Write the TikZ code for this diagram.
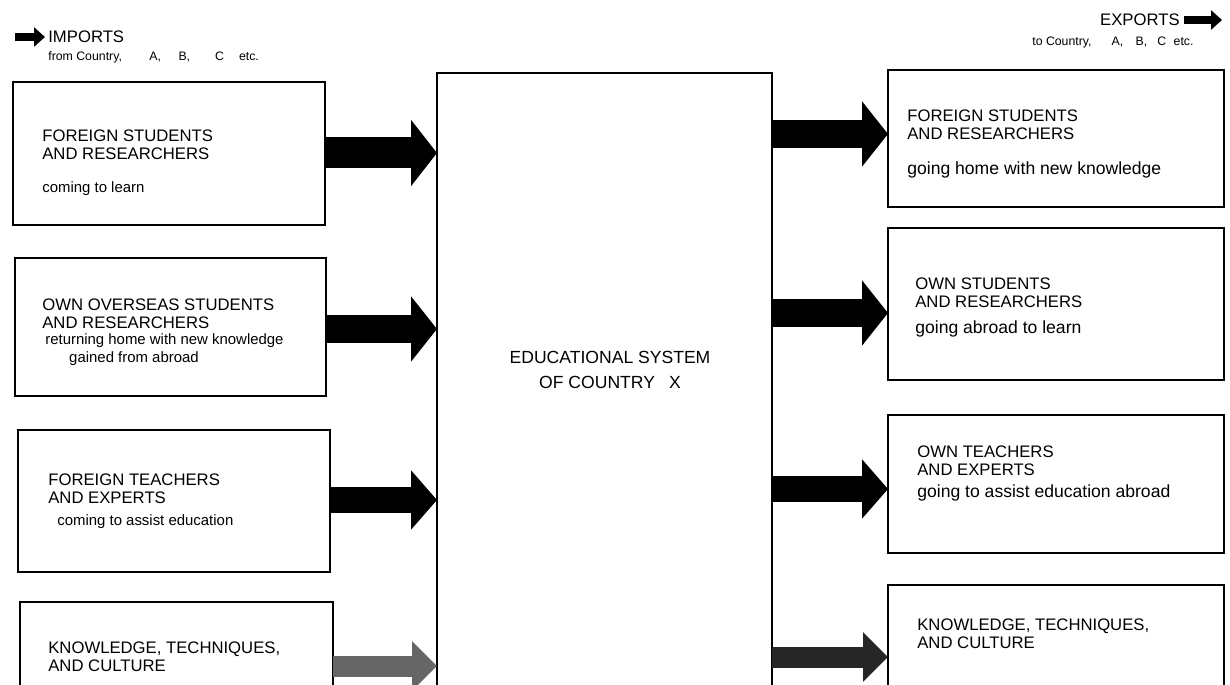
\documentclass[tikz,border=0pt]{standalone}
\usepackage{fontspec}
\setmainfont{Liberation Sans}
\usetikzlibrary{arrows.meta}
\begin{document}
\begin{tikzpicture}[x=0.02cm,y=-0.02cm,
  box/.style={draw=black, line width=1.1pt},
  title/.style={anchor=west, font=\fontsize{9.5}{10.3}\selectfont, align=left, inner sep=0pt},
  lsub/.style={anchor=west, font=\fontsize{8.5}{10.3}\selectfont, align=left, inner sep=0pt},
  rsub/.style={anchor=west, font=\fontsize{10}{12}\selectfont, align=left, inner sep=0pt},
  hdr/.style={font=\fontsize{9.5}{11}\selectfont, inner sep=0pt},
  hdrsub/.style={font=\fontsize{7}{8}\selectfont, inner sep=0pt},
  hdrarrow/.style={line width=0.16cm, -{Triangle[length=0.22cm,width=0.38cm]}},
  fatA/.style={line width=0.62cm, -{Triangle[length=0.52cm,width=1.3cm]}},
  fatB/.style={line width=0.56cm, -{Triangle[length=0.52cm,width=1.28cm]}},
  fatC/.style={line width=0.52cm, -{Triangle[length=0.52cm,width=1.16cm]}},
  fatD/.style={line width=0.42cm, -{Triangle[length=0.5cm,width=0.96cm]}}
]
\useasboundingbox (0,0) rectangle (1230,685);
\clip (0,0) rectangle (1230,685);

% headers
\coordinate (ia) at (15,37);
\coordinate (ib) at (45,37);
\draw[hdrarrow] (ia) -- (ib);
\node[hdr, anchor=west] (imp) at (48,37) {IMPORTS};
\node[hdrsub, anchor=west] (imps) at (48,57) {from Country,\hspace{0.55cm}A,\hspace{0.35cm}B,\hspace{0.5cm}C\hspace{0.3cm}etc.};

\node[hdr, anchor=east] (exp) at (1180,20) {EXPORTS};
\coordinate (ea) at (1184,20);
\coordinate (eb) at (1222,20);
\draw[hdrarrow] (ea) -- (eb);
\node[hdrsub, anchor=west] (exps) at (1032,42) {to Country,\hspace{0.4cm}A,\hspace{0.25cm}B,\hspace{0.2cm}C\hspace{0.15cm}etc.};

% left boxes
\draw[box] (13,82) rectangle (325,225);
\coordinate (L1) at (325,153);
\draw[box] (15,258) rectangle (326,396);
\coordinate (L2) at (326,329);
\draw[box] (18,430) rectangle (330,572);
\coordinate (L3) at (330,500);
\draw[box] (20,602) rectangle (333,720);
\coordinate (L4) at (333,666);

% central box
\draw[box] (437,73) rectangle (772,720);
\coordinate (C) at (610,370);
\coordinate (C1) at (437,153);
\coordinate (C2) at (437,329);
\coordinate (C3) at (437,500);
\coordinate (C4) at (437,666);
\coordinate (D1) at (772,134);
\coordinate (D2) at (772,313);
\coordinate (D3) at (772,489);
\coordinate (D4) at (772,657);

% right boxes
\draw[box] (888,70) rectangle (1224,207);
\coordinate (R1) at (888,134);
\draw[box] (888,228) rectangle (1224,380);
\coordinate (R2) at (888,313);
\draw[box] (888,415) rectangle (1224,553);
\coordinate (R3) at (888,489);
\draw[box] (888,585) rectangle (1224,720);
\coordinate (R4) at (888,657);

% texts left
\node[title] (t1) at (42,145) {FOREIGN STUDENTS\\AND RESEARCHERS};
\node[lsub] (s1) at (42,189) {coming to learn};
\node[title] (t2) at (42,314) {OWN OVERSEAS STUDENTS\\AND RESEARCHERS};
\node[lsub] (s2) at (45,350) {returning home with new knowledge\\\hspace{1.6em}gained from abroad};
\node[title] (t3) at (48,489) {FOREIGN TEACHERS\\AND EXPERTS};
\node[lsub] (s3) at (57,522) {coming to assist education};
\node[title] (t4) at (48,657) {KNOWLEDGE, TECHNIQUES,\\AND CULTURE};

% center text
\node[font=\fontsize{10}{14.2}\selectfont, align=center, inner sep=0pt] (ct) at (C) {EDUCATIONAL SYSTEM\\OF COUNTRY\hspace{0.8em}X};

% texts right
\node[title] (u1) at (907,125) {FOREIGN STUDENTS\\AND RESEARCHERS};
\node[rsub] (v1) at (907,170) {going home with new knowledge};
\node[title] (u2) at (915,293) {OWN STUDENTS\\AND RESEARCHERS};
\node[rsub] (v2) at (915,329) {going abroad to learn};
\node[title] (u3) at (917,461) {OWN TEACHERS\\AND EXPERTS};
\node[rsub] (v3) at (917,493) {going to assist education abroad};
\node[title] (u4) at (917,634) {KNOWLEDGE, TECHNIQUES,\\AND CULTURE};

% arrows
\draw[fatA] (L1) -- (C1);
\draw[fatB] (L2) -- (C2);
\draw[fatC] (L3) -- (C3);
\draw[fatD, draw=black!60] (L4) -- (C4);
\draw[fatB] (D1) -- (R1);
\draw[fatB] (D2) -- (R2);
\draw[fatC] (D3) -- (R3);
\draw[fatD, draw=black!85] (D4) -- (R4);
\end{tikzpicture}
\end{document}
